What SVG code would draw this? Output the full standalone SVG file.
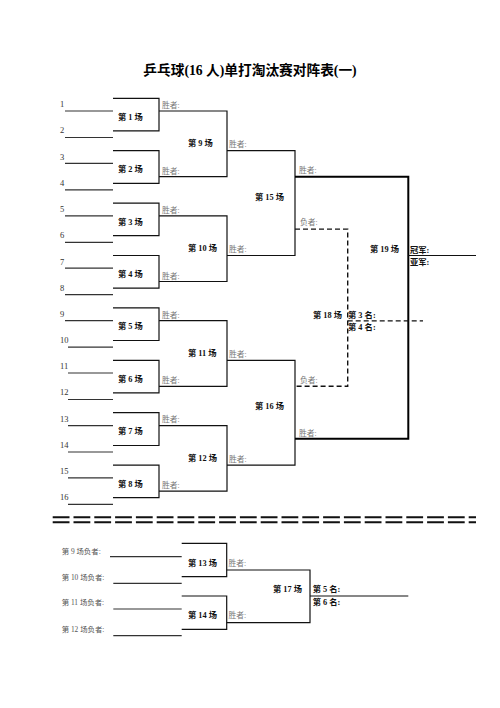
<svg xmlns="http://www.w3.org/2000/svg" width="500" height="708" viewBox="0 0 500 708">
<style>
text{font-family:"Liberation Serif","Noto Sans CJK SC",serif;}
.t{font-size:13.7px;font-weight:bold;fill:#000;}
.n{font-size:8.5px;fill:#333;}
.m{font-size:8.3px;font-weight:bold;fill:#111;}
.w{font-size:7.8px;fill:#777;}
.r{font-size:8.3px;font-weight:bold;fill:#111;}
.l{font-size:7.4px;fill:#555;}
.ln{fill:none;stroke:#111;stroke-width:1.2;}
.ul{fill:none;stroke:#333;stroke-width:1.2;}
.tk{fill:none;stroke:#000;stroke-width:2;}
.ds{fill:none;stroke:#111;stroke-width:1.4;stroke-dasharray:5 3;}
.sep{fill:none;stroke:#111;stroke-width:2;stroke-dasharray:16.8 4;}
</style>
<rect width="500" height="708" fill="#fff"/>
<text class="t" x="250" y="75" text-anchor="middle">乒乓球(16 人)单打淘汰赛对阵表(一)</text>

<g id="players">
<text class="n" x="60" y="107.3">1</text><path class="ul" d="M65,111 H113"/>
<text class="n" x="60" y="133.3">2</text><path class="ul" d="M65,137.5 H113"/>
<text class="n" x="60" y="159.7">3</text><path class="ul" d="M65,163.4 H113"/>
<text class="n" x="60" y="185.7">4</text><path class="ul" d="M65,189.9 H113"/>
<text class="n" x="60" y="212.1">5</text><path class="ul" d="M65,215.8 H113"/>
<text class="n" x="60" y="238.1">6</text><path class="ul" d="M65,242.3 H113"/>
<text class="n" x="60" y="264.5">7</text><path class="ul" d="M65,268.2 H113"/>
<text class="n" x="60" y="290.5">8</text><path class="ul" d="M65,294.7 H113"/>
<text class="n" x="60" y="316.9">9</text><path class="ul" d="M65,320.6 H113"/>
<text class="n" x="60" y="342.9">10</text><path class="ul" d="M68,347.1 H113"/>
<text class="n" x="60" y="369.3">11</text><path class="ul" d="M68,373 H113"/>
<text class="n" x="60" y="395.3">12</text><path class="ul" d="M68,399.5 H113"/>
<text class="n" x="60" y="421.7">13</text><path class="ul" d="M68,425.6 H113"/>
<text class="n" x="60" y="447.7">14</text><path class="ul" d="M68,452 H113"/>
<text class="n" x="60" y="474.1">15</text><path class="ul" d="M68,477.8 H113"/>
<text class="n" x="60" y="500.1">16</text><path class="ul" d="M68,504.3 H113"/>
</g>

<g id="m1"><path class="ln" d="M113,98.3 H159 V130.9 H113"/><text class="m" x="118" y="119.8">第 1 场</text><text class="w" x="162" y="108">胜者:</text></g>
<g id="m2"><path class="ln" d="M113,150.7 H159 V183.3 H113"/><text class="m" x="118" y="172.2">第 2 场</text><text class="w" x="162" y="173.7">胜者:</text></g>
<g id="m3"><path class="ln" d="M113,203.1 H159 V235.7 H113"/><text class="m" x="118" y="224.6">第 3 场</text><text class="w" x="162" y="212.8">胜者:</text></g>
<g id="m4"><path class="ln" d="M113,255.5 H159 V288.1 H113"/><text class="m" x="118" y="277">第 4 场</text><text class="w" x="162" y="278.5">胜者:</text></g>
<g id="m5"><path class="ln" d="M113,307.9 H159 V340.5 H113"/><text class="m" x="118" y="329.4">第 5 场</text><text class="w" x="162" y="317.6">胜者:</text></g>
<g id="m6"><path class="ln" d="M113,360.3 H159 V392.9 H113"/><text class="m" x="118" y="381.8">第 6 场</text><text class="w" x="162" y="383.3">胜者:</text></g>
<g id="m7"><path class="ln" d="M113,412.7 H159 V445.5 H113"/><text class="m" x="118" y="434.2">第 7 场</text><text class="w" x="162" y="422.4">胜者:</text></g>
<g id="m8"><path class="ln" d="M113,465.1 H159 V497.7 H113"/><text class="m" x="118" y="486.6">第 8 场</text><text class="w" x="162" y="488.1">胜者:</text></g>

<g id="m9"><path class="ln" d="M159,111 H227 V176.7 H159"/><text class="m" x="188" y="146.2">第 9 场</text><text class="w" x="229" y="147.2">胜者:</text></g>
<g id="m10"><path class="ln" d="M159,215.8 H227 V281.5 H159"/><text class="m" x="188" y="251.3">第 10 场</text><text class="w" x="229" y="252">胜者:</text></g>
<g id="m11"><path class="ln" d="M159,320.6 H227 V386.3 H159"/><text class="m" x="188" y="356.1">第 11 场</text><text class="w" x="229" y="356.8">胜者:</text></g>
<g id="m12"><path class="ln" d="M159,425.6 H227 V491.1 H159"/><text class="m" x="188" y="460.9">第 12 场</text><text class="w" x="229" y="461.6">胜者:</text></g>

<g id="m15"><path class="ln" d="M227,150.7 H295 V255.5 H227"/><text class="m" x="255" y="199.7">第 15 场</text><text class="w" x="299" y="173">胜者:</text><text class="w" x="300" y="225">负者:</text></g>
<g id="m16"><path class="ln" d="M227,360.3 H295 V465.1 H227"/><text class="m" x="255" y="409.3">第 16 场</text><text class="w" x="300" y="383">负者:</text><text class="w" x="299" y="435.5">胜者:</text></g>

<g id="m19"><text class="m" x="370" y="252">第 19 场</text><text class="r" x="410" y="252.5">冠军:</text><text class="r" x="410" y="265">亚军:</text></g>
<g id="m18"><text class="m" x="313" y="318">第 18 场</text><text class="r" x="348" y="318">第 3 名:</text><text class="r" x="348" y="330">第 4 名:</text></g>

<g id="connectors">
<path class="tk" d="M295,176.7 H408.3 V438.7 H295"/>
<path class="ln" d="M408.3,255.5 H476"/>
<path class="ds" d="M295,229.1 H347.7 V386.3 H295"/>
<path class="ds" d="M347.7,320.9 H423"/>
<path class="ln" d="M310,596 H408.3"/>
</g>

<g id="separator">
<path class="sep" d="M52.7,517.3 H476"/>
<path class="sep" d="M52.7,522.3 H476"/>
</g>

<g id="losers">
<text class="l" x="61.7" y="553.7">第 9 场负者:</text><path class="ul" d="M110,556.7 H181.7"/>
<text class="l" x="61.7" y="579.7">第 10 场负者:</text><path class="ul" d="M113.3,583.3 H181.7"/>
<text class="l" x="61.7" y="604.7">第 11 场负者:</text><path class="ul" d="M113.3,609 H181.7"/>
<text class="l" x="61.7" y="632">第 12 场负者:</text><path class="ul" d="M113.3,635.7 H181.7"/>
</g>

<g id="m13"><path class="ln" d="M181.7,543.3 H226.7 V576.7 H181.7"/><text class="m" x="188" y="566.3">第 13 场</text><text class="w" x="228.5" y="566">胜者:</text></g>
<g id="m14"><path class="ln" d="M181.7,596 H226.7 V629.3 H181.7"/><text class="m" x="188" y="618">第 14 场</text><text class="w" x="228.5" y="618">胜者:</text></g>
<g id="m17"><path class="ln" d="M226.7,570 H310 V622.7 H226.7"/><text class="m" x="273" y="592.3">第 17 场</text><text class="r" x="312.7" y="592.3">第 5 名:</text><text class="r" x="312.7" y="604.7">第 6 名:</text></g>
</svg>
